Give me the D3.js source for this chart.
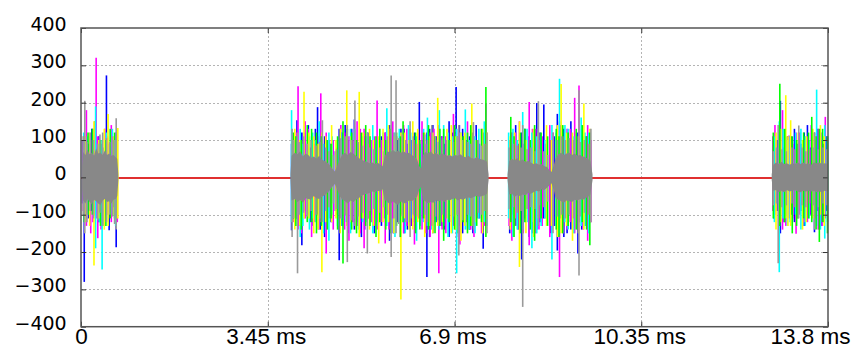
<!DOCTYPE html>
<html>
<head>
<meta charset="utf-8">
<script src="https://cdn.jsdelivr.net/npm/d3@7"></script>
<style>
  body { margin: 0; background: #fff; }
  svg { display: block; }
  .y-axis .tick text { font-family: "DejaVu Sans", sans-serif; font-size: 19px; fill: #000; }
  .x-axis .tick text { font-family: "Liberation Sans", Arial, sans-serif; font-size: 22.5px; fill: #000; }
</style>
</head>
<body>
<div id="chart"></div>
<script>
// axis ticks
const xTicks = [0, 3.45, 6.9, 10.35, 13.8];
const xTickLabels = ["0", "3.45 ms", "6.9 ms", "10.35 ms", "13.8 ms"];
const yTicks = [-400, -300, -200, -100, 0, 100, 200, 300, 400];

// flat red trace (ms, value)
const redSeries = [[0, -2], [13.8, -2]];

// dense grey core of each burst: [ms, top, bottom]
const coreBursts = [
  [[0.02, 30, -30], [0.04, 68, -62], [0.08, 60, -70], [0.12, 74, -58], [0.16, 62, -66], [0.20, 66, -72],
   [0.24, 58, -60], [0.28, 78, -64], [0.32, 64, -70], [0.36, 66, -74], [0.40, 60, -62], [0.44, 72, -58],
   [0.48, 60, -66], [0.52, 64, -64], [0.56, 58, -70], [0.60, 60, -60], [0.64, 54, -58], [0.67, 50, -50],
   [0.69, 8, -8]],
  [[3.87, 8, -8], [3.89, 58, -62], [3.95, 66, -58], [4.00, 62, -66], [4.05, 70, -60], [4.10, 56, -68],
   [4.15, 64, -56], [4.20, 60, -58], [4.25, 52, -60], [4.30, 56, -50], [4.35, 50, -56], [4.40, 58, -58],
   [4.45, 48, -52], [4.50, 44, -48], [4.55, 40, -42], [4.60, 32, -34], [4.65, 22, -24], [4.69, 16, -18],
   [4.73, 30, -32], [4.78, 48, -50], [4.83, 62, -60], [4.88, 66, -64], [4.93, 60, -70], [4.98, 68, -62],
   [5.03, 64, -66], [5.08, 58, -60], [5.13, 52, -56], [5.18, 48, -50], [5.23, 44, -46], [5.28, 42, -44],
   [5.33, 38, -42], [5.38, 40, -38], [5.43, 36, -40], [5.48, 40, -36], [5.53, 34, -38], [5.57, 30, -32],
   [5.61, 56, -60], [5.66, 70, -66], [5.71, 66, -72], [5.76, 74, -64], [5.81, 68, -70], [5.86, 72, -74],
   [5.91, 66, -64], [5.96, 70, -70], [6.01, 64, -68], [6.06, 66, -62], [6.11, 60, -64], [6.16, 56, -58],
   [6.21, 48, -52], [6.25, 30, -32], [6.28, 24, -26], [6.31, 58, -60], [6.36, 68, -64], [6.41, 64, -70],
   [6.46, 70, -66], [6.51, 62, -68], [6.56, 66, -62], [6.61, 60, -64], [6.66, 64, -60], [6.71, 62, -66],
   [6.76, 58, -60], [6.81, 60, -62], [6.86, 56, -58], [6.91, 60, -56], [6.96, 58, -62], [7.01, 62, -58],
   [7.06, 56, -60], [7.11, 54, -56], [7.16, 58, -54], [7.21, 52, -56], [7.26, 50, -52], [7.31, 54, -50],
   [7.36, 50, -52], [7.41, 48, -50], [7.46, 46, -48], [7.50, 42, -44], [7.53, 8, -8]],
  [[7.88, 8, -8], [7.91, 44, -46], [7.96, 50, -44], [8.01, 46, -52], [8.06, 52, -48], [8.11, 44, -50],
   [8.16, 48, -46], [8.21, 42, -48], [8.26, 44, -42], [8.31, 40, -44], [8.36, 36, -40], [8.41, 38, -36],
   [8.46, 34, -38], [8.51, 36, -32], [8.56, 30, -34], [8.61, 28, -28], [8.65, 20, -22], [8.69, 14, -16],
   [8.73, 30, -32], [8.77, 52, -56], [8.82, 62, -60], [8.87, 66, -64], [8.92, 60, -68], [8.97, 64, -62],
   [9.02, 66, -64], [9.07, 60, -66], [9.12, 64, -60], [9.17, 58, -62], [9.22, 60, -58], [9.27, 56, -60],
   [9.32, 54, -56], [9.37, 50, -52], [9.41, 44, -46], [9.45, 8, -8]],
  [[12.76, 8, -8], [12.79, 34, -36], [12.84, 40, -34], [12.89, 36, -40], [12.94, 42, -36], [12.99, 36, -40],
   [13.04, 38, -34], [13.09, 34, -38], [13.14, 38, -36], [13.19, 36, -34], [13.24, 40, -38], [13.29, 36, -40],
   [13.34, 40, -36], [13.39, 36, -38], [13.44, 38, -36], [13.49, 34, -38], [13.54, 40, -36], [13.59, 38, -40],
   [13.64, 40, -38], [13.69, 36, -40], [13.74, 38, -36], [13.80, 36, -38]]
];

// spikes per trace: [ms, top, bottom]
const blueSpikes = [
  [0.03, 100, -70], [0.06, 95, -280], [0.14, 90, -110], [0.20, 130, -90], [0.26, 150, -100], [0.33, 110, -120],
  [0.40, 80, -130], [0.47, 273, -100], [0.52, 90, -142], [0.56, 110, -90], [0.60, 100, -80], [0.65, 120, -187],
  [3.89, 90, -142], [3.94, 110, -100], [3.99, 153, -110], [4.03, 90, -130], [4.08, 120, -182], [4.13, 120, -90],
  [4.20, 140, -90], [4.24, 80, -120], [4.29, 100, -130], [4.33, 130, -100], [4.37, 188, -100], [4.42, 100, -140],
  [4.50, 110, -160], [4.55, 90, -110], [4.62, 90, -120], [4.70, 70, -90], [4.77, 130, -222], [4.82, 120, -130],
  [4.88, 140, -100], [4.93, 100, -150], [5.00, 130, -110], [5.05, 155, -140], [5.12, 90, -120], [5.18, 100, -160],
  [5.24, 110, -140], [5.30, 120, -110], [5.36, 80, -100], [5.42, 90, -150], [5.48, 100, -120], [5.55, 110, -130],
  [5.62, 120, -110], [5.70, 140, -170], [5.77, 110, -150], [5.85, 100, -120], [5.91, 130, -100], [5.97, 130, -150],
  [6.03, 90, -140], [6.10, 100, -130], [6.16, 120, -120], [6.25, 202, -110], [6.31, 100, -110], [6.39, 120, -267],
  [6.44, 130, -160], [6.50, 140, -150], [6.57, 110, -120], [6.66, 110, -130], [6.72, 90, -140], [6.80, 150, -160],
  [6.86, 120, -110], [6.93, 242, -120], [6.99, 140, -130], [7.05, 130, -150], [7.11, 100, -120], [7.18, 110, -140],
  [7.24, 120, -150], [7.30, 140, -120], [7.36, 90, -110], [7.43, 120, -191], [7.48, 110, -130],
  [7.92, 100, -150], [7.97, 120, -100], [8.03, 140, -130], [8.08, 90, -140], [8.14, 120, -220], [8.20, 130, -110],
  [8.28, 110, -160], [8.34, 100, -150], [8.42, 199, -140], [8.48, 120, -120], [8.55, 195, -110], [8.60, 80, -100],
  [8.68, 100, -150], [8.74, 110, -130], [8.80, 170, -196], [8.86, 140, -110], [8.92, 130, -160], [8.98, 120, -150],
  [9.05, 150, -140], [9.11, 100, -120], [9.18, 120, -204], [9.25, 130, -140], [9.33, 110, -130], [9.39, 90, -110],
  [12.80, 90, -110], [12.86, 100, -90], [12.92, 205, -150], [12.99, 80, -120], [13.05, 110, -100], [13.12, 110, -100],
  [13.18, 130, -120], [13.24, 90, -110], [13.30, 90, -90], [13.36, 120, -130], [13.42, 140, -110], [13.48, 80, -100],
  [13.55, 120, -147], [13.61, 130, -90], [13.68, 100, -130], [13.72, 90, -120], [13.77, 110, -90]
];
const magentaSpikes = [
  [0.04, 100, -90], [0.10, 180, -130], [0.18, 100, -150], [0.22, 130, -120], [0.28, 320, -110], [0.31, 110, -163],
  [0.37, 90, -140], [0.44, 130, -100], [0.49, 110, -100], [0.56, 140, -120], [0.63, 90, -110], [0.67, 100, -120],
  [3.93, 100, -120], [3.98, 120, -110], [4.01, 244, -140], [4.07, 100, -150], [4.14, 150, -110], [4.20, 130, -100],
  [4.26, 90, -160], [4.31, 90, -120], [4.39, 110, -140], [4.43, 225, -120], [4.53, 120, -204], [4.59, 100, -110],
  [4.66, 100, -140], [4.73, 80, -100], [4.80, 140, -110], [4.87, 120, -140], [4.95, 110, -170], [5.02, 100, -120],
  [5.10, 150, -130], [5.16, 130, -150], [5.23, 130, -190], [5.30, 90, -110], [5.36, 100, -120], [5.42, 110, -130],
  [5.47, 206, -140], [5.55, 100, -120], [5.62, 120, -177], [5.69, 130, -140], [5.76, 150, -110], [5.83, 110, -120],
  [5.90, 110, -160], [5.96, 140, -150], [6.02, 130, -130], [6.09, 100, -130], [6.16, 100, -180], [6.23, 120, -110],
  [6.30, 150, -140], [6.37, 90, -150], [6.45, 120, -160], [6.52, 130, -120], [6.61, 140, -257], [6.67, 110, -140],
  [6.74, 110, -150], [6.81, 100, -120], [6.88, 170, -130], [6.94, 130, -160], [7.00, 120, -180], [7.07, 110, -120],
  [7.14, 150, -140], [7.20, 120, -140], [7.26, 110, -160], [7.33, 100, -110], [7.40, 130, -150], [7.45, 90, -130],
  [7.48, 198, -120],
  [7.91, 100, -130], [7.96, 120, -170], [8.03, 120, -110], [8.10, 150, -140], [8.17, 90, -150], [8.28, 202, -182],
  [8.34, 130, -120], [8.40, 130, -150], [8.46, 100, -140], [8.52, 110, -130], [8.58, 90, -110], [8.66, 140, -160],
  [8.72, 120, -130], [8.84, 150, -267], [8.91, 110, -150], [8.98, 130, -140], [9.04, 130, -120], [9.12, 213, -150],
  [9.20, 246, -120], [9.28, 110, -140], [9.36, 140, -170], [9.42, 100, -120],
  [12.78, 110, -90], [12.82, 140, -100], [12.89, 130, -120], [12.96, 180, -140], [13.02, 100, -130], [13.08, 112, -110],
  [13.15, 90, -110], [13.21, 120, -151], [13.28, 120, -100], [13.36, 100, -120], [13.42, 110, -120], [13.49, 140, -100],
  [13.56, 100, -110], [13.62, 130, -140], [13.69, 120, -130], [13.75, 162, -110]
];
const cyanSpikes = [
  [0.05, 120, -80], [0.12, 110, -100], [0.27, 190, -190], [0.34, 90, -120], [0.39, 100, -247], [0.47, 120, -110],
  [0.58, 130, -100], [0.64, 100, -130],
  [3.89, 180, -120], [3.96, 110, -100], [4.05, 130, -160], [4.10, 90, -130], [4.22, 110, -140], [4.28, 120, -110],
  [4.34, 100, -120], [4.40, 150, -110], [4.48, 90, -150], [4.58, 120, -170], [4.64, 110, -100], [4.74, 100, -130],
  [4.80, 120, -130], [4.90, 100, -120], [4.98, 130, -150], [5.06, 130, -110], [5.13, 90, -140], [5.20, 110, -120],
  [5.27, 110, -120], [5.39, 140, -150], [5.46, 100, -130], [5.58, 120, -110], [5.65, 185, -130], [5.73, 110, -140],
  [5.80, 120, -160], [5.88, 130, -120], [5.99, 100, -150], [6.05, 140, -120], [6.12, 120, -110], [6.20, 110, -170],
  [6.27, 90, -130], [6.33, 130, -120], [6.40, 160, -130], [6.48, 110, -140], [6.55, 100, -120], [6.62, 180, -140],
  [6.70, 140, -130], [6.78, 120, -160], [6.86, 110, -150], [6.94, 130, -257], [7.02, 120, -120], [7.10, 182, -140],
  [7.17, 100, -140], [7.28, 110, -150], [7.35, 130, -110], [7.45, 150, -120], [7.50, 110, -130],
  [7.90, 120, -110], [7.98, 130, -160], [8.06, 100, -140], [8.16, 175, -140], [8.24, 130, -120], [8.33, 120, -190],
  [8.42, 110, -150], [8.50, 110, -130], [8.57, 100, -110], [8.70, 140, -220], [8.78, 120, -130], [8.84, 264, -150],
  [8.94, 140, -120], [9.00, 130, -140], [9.10, 110, -150], [9.24, 160, -130], [9.31, 120, -130], [9.38, 120, -150],
  [12.81, 110, -120], [12.90, 150, -254], [12.97, 130, -110], [13.05, 100, -130], [13.10, 110, -120], [13.20, 120, -100],
  [13.30, 130, -140], [13.38, 110, -130], [13.45, 100, -110], [13.59, 235, -130], [13.66, 120, -140], [13.74, 140, -164],
  [13.79, 110, -120]
];
const yellowSpikes = [
  [0.08, 110, -120], [0.16, 120, -130], [0.24, 150, -236], [0.33, 100, -110], [0.43, 130, -140], [0.50, 170, -130],
  [0.61, 110, -100], [0.68, 132, -110],
  [3.91, 110, -120], [3.95, 130, -140], [4.04, 100, -130], [4.12, 229, -110], [4.21, 120, -110], [4.30, 110, -150],
  [4.38, 90, -140], [4.45, 120, -254], [4.52, 110, -120], [4.63, 140, -120], [4.71, 100, -110], [4.79, 130, -150],
  [4.91, 233, -130], [4.99, 110, -120], [5.08, 100, -140], [5.14, 229, -160], [5.21, 120, -110], [5.33, 130, -140],
  [5.40, 100, -130], [5.50, 110, -177], [5.58, 130, -120], [5.68, 140, -120], [5.78, 110, -150], [5.91, 120, -327],
  [5.98, 120, -110], [6.06, 100, -140], [6.13, 150, -140], [6.22, 130, -120], [6.35, 120, -160], [6.43, 110, -130],
  [6.50, 120, -150], [6.59, 213, -130], [6.68, 100, -120], [6.76, 130, -110], [6.84, 140, -150], [6.92, 110, -140],
  [7.02, 120, -170], [7.09, 120, -130], [7.22, 198, -130], [7.30, 100, -120], [7.42, 130, -150], [7.50, 120, -110],
  [7.93, 110, -140], [8.01, 120, -130], [8.10, 150, -240], [8.22, 100, -150], [8.36, 130, -160], [8.45, 120, -110],
  [8.60, 140, -130], [8.69, 100, -130], [8.80, 140, -160], [8.87, 250, -150], [8.97, 120, -130], [9.08, 120, -170],
  [9.19, 110, -150], [9.29, 198, -140], [9.40, 130, -120],
  [12.84, 120, -140], [12.93, 130, -120], [13.02, 220, -110], [13.06, 110, -130], [13.11, 153, -130], [13.25, 120, -110],
  [13.33, 100, -140], [13.40, 110, -120], [13.52, 130, -110], [13.66, 140, -100], [13.73, 110, -130]
];
const greenSpikes = [
  [0.06, 110, -120], [0.13, 120, -100], [0.21, 130, -100], [0.36, 100, -130], [0.46, 100, -130], [0.54, 130, -110],
  [0.62, 120, -110],
  [3.92, 120, -110], [3.97, 110, -130], [4.07, 100, -140], [4.18, 140, -120], [4.26, 130, -120], [4.35, 120, -150],
  [4.44, 110, -130], [4.55, 100, -140], [4.62, 90, -110], [4.74, 110, -140], [4.84, 150, -231], [4.92, 130, -120],
  [5.00, 120, -140], [5.09, 100, -150], [5.18, 120, -110], [5.26, 140, -130], [5.34, 110, -130], [5.45, 110, -160],
  [5.52, 130, -120], [5.63, 100, -140], [5.72, 130, -150], [5.83, 120, -130], [5.90, 110, -160], [5.95, 150, -120],
  [6.08, 130, -120], [6.18, 120, -150], [6.26, 100, -140], [6.33, 120, -110], [6.42, 140, -140], [6.54, 110, -150],
  [6.63, 130, -130], [6.70, 130, -170], [6.80, 100, -120], [6.90, 140, -140], [6.97, 110, -150], [7.06, 110, -120],
  [7.14, 120, -150], [7.20, 140, -130], [7.31, 100, -130], [7.40, 130, -120], [7.48, 242, -160],
  [7.94, 162, -120], [8.00, 110, -160], [8.12, 120, -150], [8.20, 130, -120], [8.30, 100, -140], [8.38, 140, -170],
  [8.50, 120, -110], [8.62, 110, -130], [8.78, 130, -140], [8.83, 110, -160], [8.90, 140, -150], [9.00, 120, -130],
  [9.15, 130, -140], [9.26, 140, -120], [9.34, 110, -140], [9.40, 120, -182],
  [12.79, 120, -110], [12.91, 251, -130], [13.00, 130, -120], [13.14, 110, -150], [13.22, 100, -130], [13.35, 120, -110],
  [13.44, 120, -110], [13.50, 162, -120], [13.58, 110, -140], [13.64, 130, -173], [13.70, 130, -120], [13.79, 110, -150]
];
const graySpikes = [
  [0.04, 110, -100], [0.07, 205, -150], [0.11, 95, -120], [0.17, 120, -90], [0.23, 100, -110], [0.31, 90, -115],
  [0.35, 115, -95], [0.40, 120, -130], [0.47, 105, -120], [0.53, 95, -100], [0.58, 110, -105], [0.62, 100, -125],
  [0.65, 158, -140],
  [3.90, 130, -160], [3.93, 100, -110], [4.00, 120, -257], [4.03, 95, -100], [4.11, 110, -95], [4.18, 90, -105],
  [4.25, 100, -90], [4.34, 85, -100], [4.41, 95, -110], [4.46, 153, -120], [4.52, 80, -90], [4.58, 70, -80],
  [4.66, 60, -70], [4.72, 75, -85], [4.80, 105, -110], [4.88, 110, -100], [4.92, 140, -227], [5.00, 100, -115],
  [5.06, 206, -130], [5.12, 95, -105], [5.20, 85, -95], [5.29, 120, -204], [5.33, 80, -90], [5.41, 75, -85],
  [5.52, 80, -95], [5.60, 70, -80], [5.66, 110, -100], [5.73, 273, -213], [5.78, 120, -110], [5.82, 260, -150],
  [5.87, 105, -125], [5.94, 115, -105], [6.00, 100, -120], [6.08, 150, -160], [6.14, 110, -100], [6.20, 90, -105],
  [6.35, 115, -100], [6.40, 100, -120], [6.48, 140, -130], [6.55, 110, -105], [6.60, 95, -115], [6.68, 105, -100],
  [6.75, 100, -110], [6.88, 95, -105], [6.95, 110, -100], [6.98, 140, -209], [7.05, 100, -115], [7.15, 95, -100],
  [7.20, 90, -105], [7.25, 148, -140], [7.34, 100, -95], [7.40, 85, -100], [7.46, 90, -90], [7.50, 120, -150],
  [7.91, 80, -85], [7.99, 90, -80], [8.06, 85, -95], [8.13, 80, -90], [8.16, 140, -347], [8.24, 75, -85],
  [8.31, 80, -80], [8.39, 70, -85], [8.45, 204, -130], [8.47, 75, -75], [8.55, 70, -80], [8.62, 60, -65],
  [8.72, 120, -150], [8.80, 100, -105], [8.88, 110, -100], [8.95, 100, -110], [9.02, 105, -100], [9.10, 100, -110],
  [9.20, 233, -263], [9.22, 95, -105], [9.30, 100, -95], [9.38, 90, -100], [9.42, 130, -120],
  [12.79, 70, -75], [12.85, 80, -70], [12.88, 140, -230], [12.95, 75, -80], [13.03, 70, -75], [13.13, 80, -70],
  [13.19, 75, -80], [13.26, 139, -110], [13.32, 80, -75], [13.39, 70, -80], [13.46, 75, -70], [13.53, 80, -75],
  [13.55, 120, -140], [13.62, 75, -80], [13.71, 80, -70], [13.78, 75, -75]
];

const traces = [
  { spikes: blueSpikes, color: "#0000ff" },
  { spikes: magentaSpikes, color: "#ff00ff" },
  { spikes: cyanSpikes, color: "#00ffff" },
  { spikes: yellowSpikes, color: "#ffff00" },
  { spikes: greenSpikes, color: "#00ff00" }
];

const width = 852;
const height = 349;
const margin = { top: 28, right: 24, bottom: 22.3, left: 81 };

const svg = d3.select("#chart").append("svg")
  .attr("width", width)
  .attr("height", height);

const x = d3.scaleLinear().domain([0, 13.8]).range([margin.left, width - margin.right]);
const y = d3.scaleLinear().domain([-400, 400]).range([height - margin.bottom, margin.top]);

// grid
const grid = svg.append("g")
  .attr("stroke", "#b4b4b4")
  .attr("stroke-width", 1)
  .attr("stroke-dasharray", "2,2");

grid.selectAll(".hgrid")
  .data(yTicks.filter(d => d > -400 && d < 400))
  .enter().append("line")
  .attr("x1", x(0)).attr("x2", x(13.8))
  .attr("y1", d => Math.round(y(d)) + 0.5)
  .attr("y2", d => Math.round(y(d)) + 0.5);

grid.selectAll(".vgrid")
  .data(xTicks.slice(1, -1))
  .enter().append("line")
  .attr("y1", y(400)).attr("y2", y(-400))
  .attr("x1", d => Math.round(x(d)) + 0.5)
  .attr("x2", d => Math.round(x(d)) + 0.5);

// red flat trace
svg.append("path")
  .datum(redSeries)
  .attr("fill", "none")
  .attr("stroke", "#e03030")
  .attr("stroke-width", 2)
  .attr("d", d3.line().x(d => x(d[0])).y(d => y(d[1])));

// coloured spikes
traces.forEach(tr => {
  svg.append("g")
    .attr("stroke", tr.color)
    .attr("stroke-width", 1.6)
    .selectAll("line")
    .data(tr.spikes)
    .enter().append("line")
    .attr("x1", d => x(d[0])).attr("x2", d => x(d[0]))
    .attr("y1", d => y(d[1])).attr("y2", d => y(d[2]));
});

// grey trace on top
svg.append("g")
  .attr("stroke", "#9a9a9a")
  .attr("stroke-width", 1.6)
  .selectAll("line")
  .data(graySpikes)
  .enter().append("line")
  .attr("x1", d => x(d[0])).attr("x2", d => x(d[0]))
  .attr("y1", d => y(d[1])).attr("y2", d => y(d[2]));

const coreArea = d3.area()
  .x(d => x(d[0]))
  .y0(d => y(d[2]))
  .y1(d => y(d[1]));

svg.append("g")
  .selectAll("path")
  .data(coreBursts)
  .enter().append("path")
  .attr("fill", "#888888")
  .attr("d", coreArea);

// axes
const fmt = d => (d < 0 ? "\u2212" + Math.abs(d) : String(d));

const yAxis = svg.append("g")
  .attr("class", "y-axis")
  .attr("transform", `translate(${margin.left},0)`)
  .call(d3.axisLeft(y).tickValues(yTicks).tickSize(-5).tickPadding(14.3).tickFormat(fmt));
yAxis.selectAll(".tick text").attr("y", -3.5);

svg.append("g")
  .attr("transform", `translate(${width - margin.right},0)`)
  .call(d3.axisRight(y).tickValues(yTicks).tickSize(-5).tickFormat(""));

const xAxis = svg.append("g")
  .attr("class", "x-axis")
  .attr("transform", `translate(0,${height - margin.bottom})`)
  .call(d3.axisBottom(x).tickValues(xTicks).tickSize(-5).tickPadding(1)
    .tickFormat((d, i) => xTickLabels[i]));
xAxis.selectAll(".tick text").attr("dx", (d, i) => (i === 0 ? 0 : -2));
xAxis.selectAll(".tick").filter((d, i) => i === xTicks.length - 1)
  .select("text").attr("text-anchor", "end").attr("dx", 22);

svg.append("g")
  .attr("transform", `translate(0,${margin.top})`)
  .call(d3.axisTop(x).tickValues(xTicks).tickSize(-5).tickFormat(""));

svg.selectAll(".domain").remove();
svg.selectAll(".tick line").attr("stroke", "#333");

// box
svg.append("rect")
  .attr("x", x(0)).attr("y", y(400))
  .attr("width", x(13.8) - x(0))
  .attr("height", y(-400) - y(400))
  .attr("fill", "none")
  .attr("stroke", "#555")
  .attr("stroke-width", 1.5);
</script>
</body>
</html>
